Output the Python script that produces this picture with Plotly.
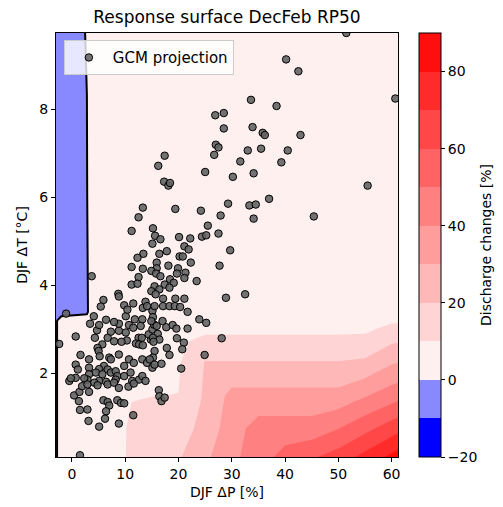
import plotly.graph_objects as go

# Response surface grid (DJF dP [%] x DJF dT [degC]) -> discharge change [%]
surf_dp = [-4, -2, 2.8, 3.2, 10, 15, 20, 22, 25, 30, 35, 40, 45, 50, 55, 60, 62]
surf_dt = [0, 0.75, 1.35, 1.5, 2.25, 3.0, 3.2, 3.4, 6.0, 10.0]
surf_change = [
    [-3, 2, 5, 5.5, 9.9, 14.8, 19.6, 23.2, 28.55, 37.5, 46.45, 55.4, 60.95, 66.5, 75.75, 85, 88.7],
    [-3, 2, 5, 5.5, 9.8, 14.65, 14.8, 18.4, 23.75, 35.25, 44.2, 44.2, 44.2, 49.75, 57, 65, 68],
    [-3, 2, 5, 5.5, 9.75, 10.81, 10.96, 15.05, 21.95, 33.45, 35.24, 35.24, 35.24, 36.35, 42.7, 49, 51.5],
    [-3, 2, 5, 5.5, 9.7, 9.85, 10.1, 14.6, 21.5, 33, 33, 33, 33, 33, 39, 45, 47.4],
    [-3, 2, 5, 5.5, 8.35, 8.7, 9.0, 13.6, 20.5, 20.5, 20.5, 20.5, 20.5, 20.5, 21.75, 29, 30.5],
    [-3, 2, 5, 5.5, 7, 7.5, 8, 8, 8, 8, 8, 8, 8, 8, 8.2, 13, 13.5],
    [-3, 2, 5, 5.5, 6.8, 7.4, 7.6, 7.6, 7.6, 7.6, 7.6, 7.6, 7.6, 7.6, 7.8, 8.5, 9],
    [-3, -2, -2, 2, 6.5, 7, 7, 7, 7, 7, 7, 7, 7, 7, 7, 7.5, 7.5],
    [-4, -3, -0.5, 2.8, 6.5, 6.5, 6.5, 6.5, 6.5, 6.5, 6.5, 6.5, 6.5, 6.5, 6.5, 6.5, 6.5],
    [-5, -4, 0.36, 3, 7, 6.5, 6.5, 6.5, 6.5, 6.5, 6.5, 6.5, 6.5, 6.5, 6.5, 6.5, 6.5],
]

# GCM projections
gcm_dp = [
    51.5, 40.2, 42.5, 60.7, 33.6, 38.4, 26.9, 28.5, 28.5, 33.9, 35.8, 36.2, 42.9, 27.0, 27.5,
    26.7, 33.0, 35.5, 40.5, 39.3, 31.6, 17.4, 16.2, 25.0, 30.2, 34.1, 17.3, 18.1, 18.4, 55.5,
    13.3, 12.5, 19.4, 24.2, 29.3, 33.3, 34.5, 37.0, 27.9, 34.1, 45.4, 11.2, 15.2, 15.6, 16.6,
    20.1, 22.2, 24.4, 25.2, 25.5, 27.5,
    15.1, 29.7, 21.1, 21.9, 17.8, 16.4, 20.2, 20.8, 22.3, 27.7, 15.9, 15.9, 18.1, 19.9, 21.3,
    19.7, 14.9, 15.8, 16.6, 21.1, 18.4, 19.1, 23.4, 17.4, 15.5, 18.3, 16.4, 14.9, 15.7, 28.9,
    32.5, 19.4, 21.1, 17.1,
    3.7, 13.4, 12.3, 11.2, 13.3, 12.5, 11.2, 12.3, 8.7, 8.8, 5.9, 5.4, 9.8, 11.5, 13.8, 13.3,
    -1.1, -2.4, 0.7, 3.4, 4.1, 6.4, 4.7, 5.1, 4.3, 6.7, 7.3, 8.8, 8.8, 7.9, 10.1, 10.4, 14.1,
    11.8, 13.2, 12.9, 15.1, 10.7, 11.5, 10.1, 12.5, 13.1, 10.3, 9.3, 7.9, 5.7, 12.0, 12.6,
    13.3, 14.8, 14.4, 15.1, 15.4, 4.8, 5.0, 5.2, 8.8, 7.0, 7.3, 1.6, 3.2, 10.7, 11.6, 9.8,
    13.2, 14.1, 15.1, 0.7, 1.1, 3.2, 6.0, 6.7, 7.3, 5.1, 4.5, 5.7, 8.2, 8.5, 8.2, 9.8, 11.0,
    11.3, 12.6, 13.2, 13.8, 3.2, 2.9, 2.3, 0.7, -0.5, -0.2, 5.1, 6.4,
    15.5, 17.1, 18.3, 19.3, 20.3, 21.7, 23.9, 25.2, 15.2, 14.9, 17.0, 15.9, 17.7, 18.9, 19.6,
    21.7, 16.1, 15.2, 16.4, 15.3, 19.7, 21.0, 20.7, 28.1, 17.8, 18.3, 15.5, 15.2, 14.6, 15.5,
    16.8, 24.9, 20.5,
    0.4, 1.3, 1.4, 1.9, 2.9, 3.2, 4.2, 4.8, 6.7, 7.9, 8.8, 10.6, 11.6, 16.3, 16.4, 16.8, 17.4,
    5.9, 6.7, 7.0, 6.4, 8.5, 9.2, 9.8, 1.5, 2.9, 11.5, 3.1, 6.2, 5.1, 8.8, 1.5,
]
gcm_dt = [
    9.74, 9.14, 8.87, 8.25, 8.22, 8.08, 7.87, 7.92, 7.57, 7.60, 7.47, 7.42, 7.42, 7.20, 7.14,
    6.97, 7.07, 7.11, 7.07, 6.80, 6.82, 6.95, 6.72, 6.58, 6.47, 6.55, 6.36, 6.27, 6.33, 6.27,
    5.77, 5.55, 5.74, 5.70, 5.86, 5.82, 5.84, 5.97, 5.59, 5.52, 5.57, 5.24, 5.30, 5.13, 5.05,
    5.10, 5.07, 5.11, 5.14, 5.36, 5.18,
    4.95, 4.80, 4.89, 4.82, 4.78, 4.72, 4.66, 4.66, 4.52, 4.45, 4.52, 4.39, 4.45, 4.39, 4.29,
    4.27, 4.33, 4.27, 4.21, 4.17, 4.14, 4.06, 4.10, 4.02, 3.98, 3.95, 3.91, 3.87, 3.80, 3.72,
    3.80, 3.70, 3.70, 3.70,
    4.21, 4.72, 4.63, 4.42, 4.38, 4.19, 4.02, 4.04, 3.81, 3.75, 3.67, 3.52, 3.55, 3.59, 3.63, 3.49,
    3.36, 2.67, 2.84, 3.13, 3.30, 3.22, 2.98, 3.10, 2.81, 2.81, 2.95, 2.97, 3.13, 3.17, 3.30, 3.45, 3.53,
    3.23, 3.23, 3.08, 3.42, 3.10, 3.04, 2.93, 2.81, 2.81, 2.75, 2.72, 2.73, 2.66, 2.68, 2.66,
    2.64, 2.77, 2.89, 3.00, 3.11, 2.58, 2.51, 2.39, 2.43, 2.36, 2.32, 2.42, 2.32, 2.32, 2.24, 2.17,
    2.32, 2.24, 2.13, 2.20, 2.09, 2.13, 2.17, 2.09, 2.02, 2.10, 2.02, 1.98, 2.05, 1.94, 1.86, 1.94, 2.02,
    1.83, 1.86, 1.94, 1.83, 1.98, 1.86, 1.89, 1.90, 1.83, 1.89, 1.83, 1.81,
    3.53, 3.53, 3.53, 3.53, 3.51, 3.40, 3.23, 3.15, 3.28, 3.19, 3.19, 3.08, 3.05, 3.10, 3.02,
    3.02, 2.90, 2.81, 2.77, 2.72, 2.80, 2.70, 2.55, 2.80, 2.58, 2.42, 2.51, 2.36, 2.32, 2.20,
    2.22, 2.42, 2.11,
    1.50, 1.37, 1.58, 1.71, 1.75, 1.58, 1.79, 1.73, 1.75, 1.79, 1.67, 1.70, 1.77, 1.62, 1.48, 1.37, 1.45,
    1.39, 1.35, 1.27, 1.14, 1.39, 1.33, 1.32, 1.17, 1.18, 1.05, 0.92, 0.97, 0.79, 0.86, 0.14,
]

# contour levels and band colours (bwr, centred on 0)
levels = [-20, -10, 0, 10, 20, 30, 40, 50, 60, 70, 80, 90]
band_colors = [
    "#0000ff", "#8888ff", "#fff0f0", "#ffd4d4", "#ffb8b8", "#ff9c9c",
    "#ff8080", "#ff6363", "#ff4747", "#ff2b2b", "#ff0e0e",
]

# plotly evaluates filled contour bands at their midpoints
fill_colors = [band_colors[0]] + band_colors + [band_colors[-1]]
fill_scale = [[i / 12, c] for i, c in enumerate(fill_colors)]

# stepped scale for the colorbar (-20 .. 90)
nb = len(band_colors)
bar_scale = []
for k, c in enumerate(band_colors):
    bar_scale.append([k / nb, c])
    bar_scale.append([(k + 1) / nb, c])

font = "DejaVu Sans"

# page body has an 8px margin, so the figure is sized/placed to compensate
W, H = 495, 499
plot_w = W - 48 - 105

fig = go.Figure()

fig.add_trace(go.Contour(
    x=surf_dp, y=surf_dt, z=surf_change,
    autocontour=False,
    contours=dict(start=levels[0], end=levels[-1], size=10, coloring="fill", showlines=False),
    line=dict(width=0, smoothing=0),
    colorscale=fill_scale,
    showscale=False,
    hoverinfo="skip",
    showlegend=False,
))

# zero line
fig.add_trace(go.Contour(
    x=surf_dp, y=surf_dt, z=surf_change,
    autocontour=False,
    contours=dict(start=0, end=0, size=1, coloring="lines"),
    line=dict(width=2, smoothing=0),
    colorscale=[[0, "black"], [1, "black"]],
    showscale=False,
    hoverinfo="skip",
    showlegend=False,
))

fig.add_trace(go.Scatter(
    x=gcm_dp, y=gcm_dt,
    mode="markers",
    name="GCM projection",
    marker=dict(size=7.5, color="rgba(100,100,100,0.9)", line=dict(color="black", width=1)),
))

# colorbar holder (point outside the axes range)
fig.add_trace(go.Scatter(
    x=[-100], y=[-100], mode="markers", showlegend=False, hoverinfo="skip",
    marker=dict(
        color=[0], cmin=levels[0], cmax=levels[-1], colorscale=bar_scale, showscale=True,
        colorbar=dict(
            x=1.061, xanchor="left", xpad=0, ypad=0,
            y=0.5, yanchor="middle", len=1, thickness=22,
            outlinewidth=1, outlinecolor="black",
            tickvals=[-20, 0, 20, 40, 60, 80],
            ticks="outside", ticklen=4, tickcolor="black",
            tickfont=dict(family=font, size=14, color="black"),
        ),
    ),
))

# black line at 0 on the colorbar
fig.add_shape(type="line", xref="paper", yref="paper",
              x0=1.061, x1=1.061 + 22 / plot_w, y0=20 / 110, y1=20 / 110,
              line=dict(color="black", width=2))

# colorbar label
fig.add_annotation(text="Discharge changes [%]", xref="paper", yref="paper",
                   x=(478 - 48) / plot_w, y=0.5, xanchor="center", yanchor="middle",
                   textangle=-90, showarrow=False,
                   font=dict(family=font, size=14, color="black"))

fig.update_layout(
    width=W, height=H,
    margin=dict(l=48, r=105, t=25, b=50, autoexpand=False),
    paper_bgcolor="white", plot_bgcolor="white",
    font=dict(family=font, size=14, color="black"),
    title=dict(text="Response surface DecFeb RP50", x=0.5, xref="paper", xanchor="center",
               y=1 - 9 / H, yref="container", yanchor="middle",
               font=dict(family=font, size=17, color="black")),
    legend=dict(x=0.023, y=0.983, xanchor="left", yanchor="top", itemwidth=38,
                bgcolor="rgba(255,255,255,0.8)", bordercolor="#cccccc", borderwidth=1,
                font=dict(family=font, size=15, color="black")),
    showlegend=True,
)
fig.update_xaxes(
    range=[-3, 61.2], tickvals=[0, 10, 20, 30, 40, 50, 60],
    showgrid=False, zeroline=False, showline=True, linecolor="black", linewidth=1, mirror=True,
    ticks="outside", ticklen=4, tickcolor="black", automargin=False,
    tickfont=dict(family=font, size=14, color="black"),
    title=dict(text="DJF ΔP [%]", standoff=6, font=dict(family=font, size=14, color="black")),
)
fig.update_yaxes(
    range=[0.1, 9.74], tickvals=[2, 4, 6, 8],
    showgrid=False, zeroline=False, showline=True, linecolor="black", linewidth=1, mirror=True,
    ticks="outside", ticklen=4, tickcolor="black", automargin=False,
    tickfont=dict(family=font, size=14, color="black"),
    title=dict(text="DJF ΔT [°C]", standoff=8, font=dict(family=font, size=14, color="black")),
)

fig.write_html("out.html")
